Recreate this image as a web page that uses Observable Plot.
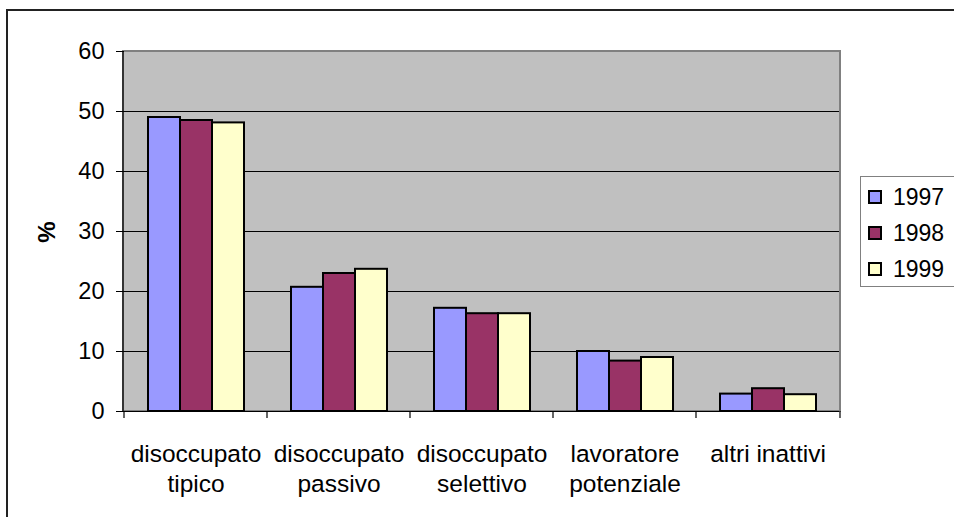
<!DOCTYPE html>
<html><head><meta charset="utf-8">
<script src="https://cdn.jsdelivr.net/npm/d3@7"></script>
<script src="https://cdn.jsdelivr.net/npm/@observablehq/plot@0.6"></script>
<style>
html,body{margin:0;padding:0;background:#fff;overflow:hidden;}
#wrap{position:relative;width:954px;height:517px;overflow:hidden;font-family:"Liberation Sans",Arial,sans-serif;color:#000;}
#border{position:absolute;left:6px;top:9px;width:1000px;height:600px;border:2px solid #222;box-sizing:border-box;}
#chart{position:absolute;left:0;top:0;}
#ylabel{position:absolute;left:47px;top:232px;font-size:24px;font-weight:bold;transform:translate(-50%,-50%) rotate(-90deg);line-height:1;}
#legend{position:absolute;left:860px;top:176px;width:120px;height:111px;border:1.5px solid #808080;box-sizing:border-box;background:#fff;}
.item{position:absolute;left:7px;height:24px;display:flex;align-items:center;font-size:23px;line-height:1;}
.sw{width:14px;height:14px;border:2px solid #000;box-sizing:border-box;margin-right:11px;}
</style></head><body>
<div id="wrap">
  <div id="border"></div>
  <div id="chart"></div>
  <div id="ylabel">%</div>
  <div id="legend"></div>
</div>
<script>
const categories = ["disoccupato tipico", "disoccupato passivo", "disoccupato selettivo", "lavoratore potenziale", "altri inattivi"];
const categoryLabels = ["disoccupato\ntipico", "disoccupato\npassivo", "disoccupato\nselettivo", "lavoratore\npotenziale", "altri inattivi"];
const years = ["1997", "1998", "1999"];
const values1997 = [49.0, 20.7, 17.2, 10.0, 2.9];
const values1998 = [48.5, 23.0, 16.3, 8.4, 3.8];
const values1999 = [48.1, 23.7, 16.3, 9.0, 2.8];
const yearColors = ["#9999FF", "#993366", "#FFFFCC"];
const yTicks = [0, 10, 20, 30, 40, 50, 60];

const series = [values1997, values1998, values1999];
const rows = [];
categories.forEach((c, i) => years.forEach((yr, j) => rows.push({category: c, year: yr, value: series[j][i]})));
const labelOf = new Map(categories.map((c, i) => [c, categoryLabels[i]]));
const FONT = '"Liberation Sans", Arial, sans-serif';

const chart = Plot.plot({
  width: 954, height: 517,
  marginLeft: 123, marginRight: 114, marginTop: 51, marginBottom: 106,
  style: {fontFamily: FONT, fontSize: "24px", color: "#000", background: "transparent", overflow: "visible"},
  fx: {domain: categories, padding: 0, label: null},
  x: {domain: years, paddingInner: 0, paddingOuter: 0.72, axis: null},
  y: {domain: [0, 60], label: null},
  color: {domain: years, range: yearColors},
  marks: [
    Plot.gridY(yTicks.filter(t => t > 0 && t < 60), {stroke: "#000", strokeOpacity: 1, strokeWidth: 1}),
    Plot.barY(rows, {fx: "category", x: "year", y: "value", fill: "year", stroke: "#000", strokeWidth: 2}),
    Plot.ruleY([0], {stroke: "#000", strokeWidth: 1.2}),
    Plot.axisY({ticks: yTicks, tickSize: 8, tickPadding: 12, fontSize: 23.5, label: null, stroke: "#000"}),
    Plot.axisFx({anchor: "bottom", tickSize: 0, tickPadding: 29, fontSize: 24.5, lineHeight: 1.22, label: null, tickFormat: c => labelOf.get(c)})
  ]
});
document.getElementById("chart").appendChild(chart);

// plot-area background, border, left axis line and category boundary ticks
const svg = d3.select(chart);
const fxScale = chart.scale("fx"), yScale = chart.scale("y");
const areaLeft = Math.min(...fxScale.range), areaRight = Math.max(...fxScale.range);
const areaBottom = yScale.apply(0), areaTop = yScale.apply(60);
svg.insert("rect", "g")
  .attr("x", areaLeft).attr("y", areaTop).attr("width", areaRight - areaLeft).attr("height", areaBottom - areaTop)
  .attr("fill", "#C0C0C0").attr("stroke", "#808080").attr("stroke-width", 2);
svg.append("line").attr("x1", areaLeft).attr("x2", areaLeft).attr("y1", areaTop).attr("y2", areaBottom)
  .attr("stroke", "#000").attr("stroke-width", 1.2);
const edges = categories.map(c => fxScale.apply(c)).concat([areaRight]);
svg.append("g").selectAll("line").data(edges).join("line")
  .attr("x1", d => d).attr("x2", d => d).attr("y1", areaBottom).attr("y2", areaBottom + 7)
  .attr("stroke", "#000").attr("stroke-width", 1.2);

// legend
const legend = d3.select("#legend");
years.forEach((yr, j) => {
  const it = legend.append("div").attr("class", "item").style("top", (8 + j * 36) + "px");
  it.append("div").attr("class", "sw").style("background", yearColors[j]);
  it.append("span").text(yr);
});
</script>
</body></html>
